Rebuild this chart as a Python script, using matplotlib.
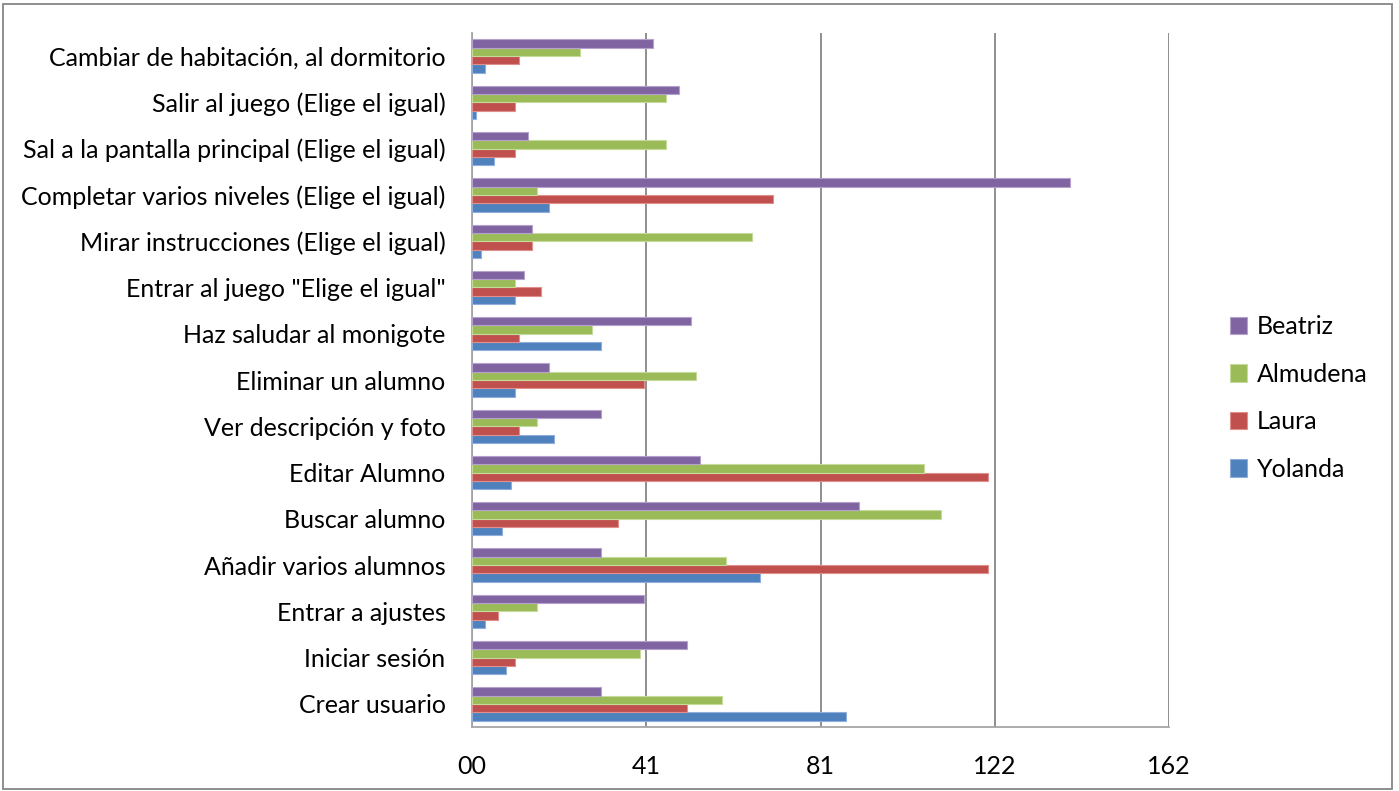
import numpy as np
import matplotlib.pyplot as plt

plt.rcParams["font.family"] = ["Lato", "DejaVu Sans"]

# tasks, listed bottom to top
tasks = ["Crear usuario", "Iniciar sesión", "Entrar a ajustes", "Añadir varios alumnos",
         "Buscar alumno", "Editar Alumno", "Ver descripción y foto", "Eliminar un alumno",
         "Haz saludar al monigote", 'Entrar al juego "Elige el igual"',
         "Mirar instrucciones (Elige el igual)", "Completar varios niveles (Elige el igual)",
         "Sal a la pantalla principal (Elige el igual)", "Salir al juego (Elige el igual)",
         "Cambiar de habitación, al dormitorio"]

yolanda = [87, 8, 3, 67, 7, 9, 19, 10, 30, 10, 2, 18, 5, 1, 3]
laura = [50, 10, 6, 120, 34, 120, 11, 40, 11, 16, 14, 70, 10, 10, 11]
almudena = [58, 39, 15, 59, 109, 105, 15, 52, 28, 10, 65, 15, 45, 45, 25]
beatriz = [30, 50, 40, 30, 90, 53, 30, 18, 51, 12, 14, 139, 13, 48, 42]

series = [("Yolanda", yolanda, "#4F81BD", "#8FAEDB"),
          ("Laura", laura, "#C0504D", "#E08F8C"),
          ("Almudena", almudena, "#9BBB59", "#C6DB9A"),
          ("Beatriz", beatriz, "#8064A2", "#B4A2CC")]

ticks = [0, 40.5, 81, 121.5, 162]
tick_labels = ["00", "41", "81", "122", "162"]

fig = plt.figure(figsize=(13.99, 7.91), dpi=100)
ax = fig.add_axes([472 / 1399, 1 - 727 / 791, (1169 - 472) / 1399, (727 - 33) / 791])

y = np.arange(len(tasks))
h = 0.18
for i, (name, vals, col, edge) in enumerate(series):
    ax.barh(y + (i - 1.5) * h, vals, height=h, color=col, edgecolor=edge,
            linewidth=0.8, label=name, zorder=3)

ax.set_xlim(0, 162)
ax.set_ylim(-0.5, len(tasks) - 0.5)
ax.set_xticks(ticks)
ax.set_xticklabels(tick_labels, fontsize=18)
ax.set_yticks(y)
ax.set_yticklabels(tasks, fontsize=18)
ax.tick_params(length=0)
ax.tick_params(axis="y", pad=19)
ax.tick_params(axis="x", pad=20)
ax.grid(axis="x", color="#868686", linewidth=1.3, zorder=0)
for s in ["top", "right"]:
    ax.spines[s].set_visible(False)
for s in ["left", "bottom"]:
    ax.spines[s].set_color("#A6A6A6")
    ax.spines[s].set_linewidth(1.3)

handles, labels = ax.get_legend_handles_labels()
leg = fig.legend(handles[::-1], labels[::-1], loc="center left",
                 bbox_to_anchor=(1207 / 1399, 1 - 398 / 791), frameon=False,
                 fontsize=18, handlelength=0.7, handleheight=0.7,
                 handletextpad=0.4, labelspacing=0.98)

# outer chart border
fig.add_artist(plt.Rectangle((3 / 1399, 2 / 791), 1389 / 1399, 785 / 791,
                             transform=fig.transFigure, fill=False,
                             edgecolor="#868686", linewidth=1.3))

fig.savefig("out.png", dpi=100)
